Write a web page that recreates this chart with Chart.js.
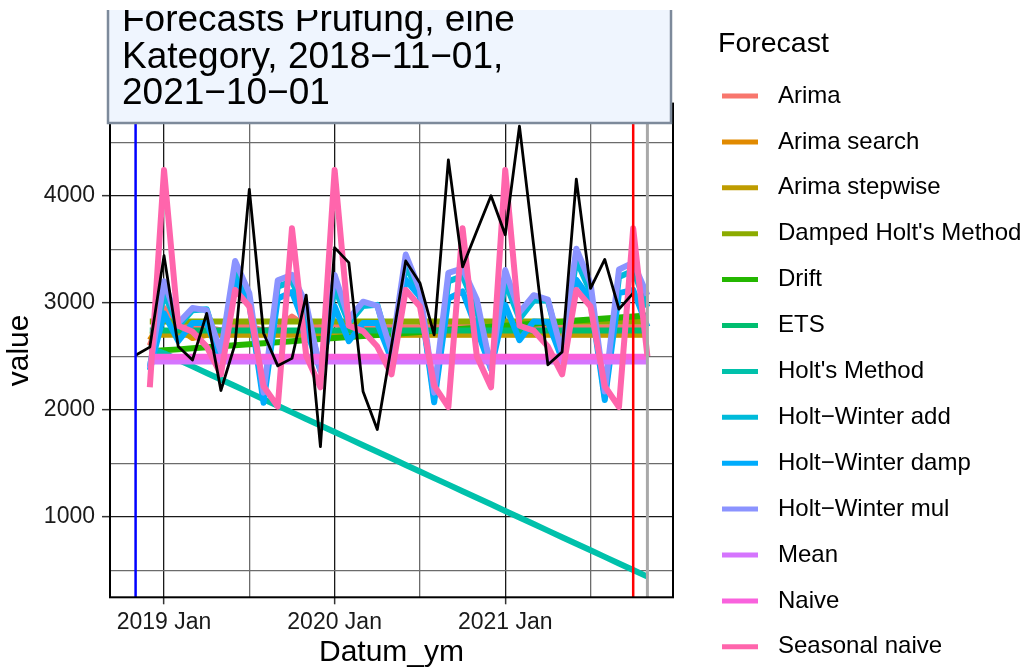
<!DOCTYPE html>
<html>
<head>
<meta charset="utf-8">
<script src="https://cdn.jsdelivr.net/npm/chart.js@4/dist/chart.umd.min.js"></script>
<style>
  html, body { margin: 0; padding: 0; background: #fff; }
</style>
</head>
<body>
<canvas id="fcChart" width="1023" height="671"></canvas>
<script>
// months on the x axis (2018-11 .. 2021-11)
const months = [
  '2018-11', '2018-12',
  '2019-01', '2019-02', '2019-03', '2019-04', '2019-05', '2019-06', '2019-07', '2019-08', '2019-09', '2019-10', '2019-11', '2019-12',
  '2020-01', '2020-02', '2020-03', '2020-04', '2020-05', '2020-06', '2020-07', '2020-08', '2020-09', '2020-10', '2020-11', '2020-12',
  '2021-01', '2021-02', '2021-03', '2021-04', '2021-05', '2021-06', '2021-07', '2021-08', '2021-09', '2021-10', '2021-11'
];
const actualMonths = months.slice(0, 36);
const forecastMonths = months.slice(1);

// observed values (black line)
const actual = [2510, 2585, 3440, 2590, 2465, 2900, 2180, 2615, 4060, 2715, 2410, 2480,
  3070, 1655, 3515, 3375, 2170, 1815, 2600, 3390, 3185, 2700, 4335, 3335,
  3670, 4000, 3635, 4650, 3535, 2420, 2540, 4155, 3135, 3405, 2940, 3090];

// forecasts, one array per method
const arima = [2600, 2950, 2800, 2760, 2770, 2740, 2790, 2780, 2740, 2760, 2870, 2780,
  2770, 2800, 2770, 2770, 2770, 2770, 2770, 2770, 2770, 2770, 2800, 2770,
  2770, 2770, 2770, 2770, 2770, 2770, 2770, 2770, 2770, 2770, 2770, 2770];
const arimaSearch = [2650, 2850, 2760, 2670, 2700, 2705, 2705, 2705, 2705, 2705, 2705, 2705,
  2705, 2705, 2705, 2705, 2705, 2705, 2705, 2705, 2705, 2705, 2705, 2705,
  2705, 2705, 2705, 2705, 2705, 2705, 2705, 2705, 2705, 2705, 2705, 2705];
const arimaStepwise = [2700, 2700, 2700, 2700, 2700, 2700, 2700, 2700, 2700, 2700, 2700, 2700,
  2700, 2700, 2700, 2700, 2700, 2700, 2700, 2700, 2700, 2700, 2700, 2700,
  2700, 2700, 2700, 2700, 2700, 2700, 2700, 2700, 2700, 2700, 2700, 2700];
const dampedHolt = [2825, 2825, 2825, 2825, 2825, 2825, 2825, 2825, 2825, 2825, 2825, 2825,
  2825, 2825, 2825, 2825, 2825, 2825, 2825, 2825, 2825, 2825, 2825, 2825,
  2825, 2825, 2825, 2825, 2825, 2825, 2825, 2825, 2825, 2825, 2825, 2825];
const drift = [2545, 2555, 2564, 2574, 2583, 2593, 2603, 2612, 2622, 2631, 2641, 2651,
  2660, 2670, 2679, 2689, 2699, 2708, 2718, 2727, 2737, 2747, 2756, 2766,
  2775, 2785, 2795, 2804, 2814, 2823, 2833, 2843, 2852, 2862, 2871, 2881];
const ets = [2740, 2740, 2740, 2740, 2740, 2740, 2740, 2740, 2740, 2740, 2740, 2740,
  2740, 2740, 2740, 2740, 2740, 2740, 2740, 2740, 2740, 2740, 2740, 2740,
  2740, 2740, 2740, 2740, 2740, 2740, 2740, 2740, 2740, 2740, 2740, 2740];
const holt = [2575, 2528, 2467, 2405, 2344, 2282, 2221, 2160, 2098, 2037, 1975, 1914,
  1853, 1791, 1730, 1668, 1607, 1546, 1484, 1423, 1361, 1300, 1239, 1177,
  1116, 1054, 993, 932, 870, 809, 747, 686, 625, 563, 502, 440];
const hwAdd = [2400, 3090, 2780, 2930, 2940, 2500, 3300, 3040, 2110, 3150, 3200, 2900,
  2390, 3140, 2810, 2970, 2980, 2500, 3350, 3070, 2110, 3200, 3250, 2930,
  2400, 3190, 2850, 3020, 3020, 2500, 3400, 3100, 2120, 3240, 3300, 2960];
const hwDamp = [2370, 2900, 2640, 2810, 2810, 2470, 3210, 2990, 2065, 3040, 3100, 2750,
  2370, 2965, 2640, 2810, 2810, 2470, 3215, 3055, 2070, 3040, 3105, 2750,
  2380, 2980, 2650, 2825, 2820, 2470, 3215, 3030, 2090, 3090, 3120, 2775];
const hwMul = [2390, 3200, 2810, 2950, 2930, 2540, 3390, 3090, 2160, 3210, 3260, 2990,
  2360, 3260, 2850, 3010, 2970, 2540, 3450, 3120, 2160, 3280, 3320, 3030,
  2380, 3305, 2910, 3070, 3030, 2530, 3505, 3180, 2170, 3310, 3375, 3070];
const meanFc = [2450, 2450, 2450, 2450, 2450, 2450, 2450, 2450, 2450, 2450, 2450, 2450,
  2450, 2450, 2450, 2450, 2450, 2450, 2450, 2450, 2450, 2450, 2450, 2450,
  2450, 2450, 2450, 2450, 2450, 2450, 2450, 2450, 2450, 2450, 2450, 2450];
const naive = [2495, 2495, 2495, 2495, 2495, 2495, 2495, 2495, 2495, 2495, 2495, 2495,
  2495, 2495, 2495, 2495, 2495, 2495, 2495, 2495, 2495, 2495, 2495, 2495,
  2495, 2495, 2495, 2495, 2495, 2495, 2495, 2495, 2495, 2495, 2495, 2495];
const seasonalNaive = [2210, 4240, 2785, 2730, 2590, 2330, 3120, 2965, 2220, 2030, 3695, 2505,
  2210, 4240, 2785, 2735, 2590, 2330, 3120, 2965, 2225, 2025, 3695, 2500,
  2210, 4240, 2785, 2740, 2590, 2330, 3120, 2965, 2220, 2025, 3695, 2500];

const forecastNames = ['Arima', 'Arima search', 'Arima stepwise', "Damped Holt's Method", 'Drift', 'ETS',
  "Holt's Method", 'Holt\u2212Winter add', 'Holt\u2212Winter damp', 'Holt\u2212Winter mul', 'Mean', 'Naive', 'Seasonal naive'];
const forecastValues = [arima, arimaSearch, arimaStepwise, dampedHolt, drift, ets,
  holt, hwAdd, hwDamp, hwMul, meanFc, naive, seasonalNaive];
const forecastColors = ['#F8766D', '#E18A00', '#BE9C00', '#8CAB00', '#24B700', '#00BE70',
  '#00C1AB', '#00BBDA', '#00ACFC', '#8B93FF', '#D575FE', '#F962DD', '#FF65AC'];

// vertical markers
const vlineMonths = ['2018-11', '2021-10', '2021-11'];
const vlineColors = ['#0000FF', '#FF0000', '#A9A9A9'];

// ticks
const xMajorMonths = ['2019-01', '2020-01', '2021-01'];
const xTickLabels = ['2019 Jan', '2020 Jan', '2021 Jan'];
const xMinorMonths = ['2019-07', '2020-07', '2021-07'];
const yMajorTicks = [1000, 2000, 3000, 4000];
const yMinorTicks = [500, 1500, 2500, 3500, 4500];

const titleLines = ['Forecasts Prufung, eine', 'Kategory, 2018\u221211\u221201,', '2021\u221210\u221201'];
const FONT = "'Liberation Sans', Arial, Helvetica, sans-serif";

// months since 2018-11
function monthIndex(s) {
  const [y, m] = s.split('-').map(Number);
  return (y - 2018) * 12 + (m - 11);
}

const datasets = [{
  label: 'actual',
  data: actualMonths.map((m, i) => ({ x: monthIndex(m), y: actual[i] })),
  borderColor: '#000000',
  borderWidth: 2.8,
  order: 0
}];
forecastNames.forEach((name, i) => {
  datasets.push({
    label: name,
    data: forecastMonths.map((m, j) => ({ x: monthIndex(m), y: forecastValues[i][j] })),
    borderColor: forecastColors[i],
    borderWidth: 6,
    order: forecastNames.length - i
  });
});

const overlay = {
  id: 'overlay',
  afterDatasetsDraw(chart) {
    const { ctx, chartArea: a, scales: { x } } = chart;
    ctx.save();
    vlineMonths.forEach((m, i) => {
      const px = x.getPixelForValue(monthIndex(m));
      ctx.strokeStyle = vlineColors[i];
      ctx.lineWidth = i === 2 ? 3 : 2.5;
      ctx.beginPath();
      ctx.moveTo(px, a.top);
      ctx.lineTo(px, a.bottom);
      ctx.stroke();
    });
    ctx.strokeStyle = '#000';
    ctx.lineWidth = 2;
    ctx.strokeRect(a.left, a.top, a.right - a.left, a.bottom - a.top);
    ctx.restore();
  },
  afterDraw(chart) {
    const ctx = chart.ctx;
    // title box (cut off at the top)
    ctx.save();
    ctx.beginPath();
    ctx.rect(0, 10, chart.width, chart.height);
    ctx.clip();
    ctx.fillStyle = '#EFF5FE';
    ctx.fillRect(108, -30, 563, 153);
    ctx.strokeStyle = '#7D8A9B';
    ctx.lineWidth = 2.5;
    ctx.strokeRect(108, -30, 563, 153);
    ctx.fillStyle = '#000';
    ctx.font = '37px ' + FONT;
    ctx.textBaseline = 'alphabetic';
    titleLines.forEach((t, i) => ctx.fillText(t, 122, 31 + i * 36.5));
    ctx.restore();

    // legend
    ctx.save();
    ctx.fillStyle = '#000';
    ctx.textBaseline = 'middle';
    ctx.font = '28.5px ' + FONT;
    ctx.fillText('Forecast', 718, 44);
    ctx.font = '24px ' + FONT;
    forecastNames.forEach((name, i) => {
      const y = 96 + i * 45.9;
      ctx.strokeStyle = forecastColors[i];
      ctx.lineWidth = 5;
      ctx.beginPath();
      ctx.moveTo(722, y);
      ctx.lineTo(758, y);
      ctx.stroke();
      ctx.fillText(name, 778, y);
    });
    ctx.restore();
  }
};

new Chart(document.getElementById('fcChart'), {
  type: 'line',
  data: { datasets },
  options: {
    responsive: false,
    animation: false,
    devicePixelRatio: 1,
    layout: { padding: { top: 103.6, right: 350, left: 0, bottom: 0 } },
    elements: {
      point: { radius: 0, hoverRadius: 0 },
      line: { tension: 0, borderJoinStyle: 'round', borderCapStyle: 'butt', fill: false }
    },
    plugins: { legend: { display: false }, title: { display: false }, tooltip: { enabled: false } },
    scales: {
      x: {
        type: 'linear',
        min: -1.8,
        max: 37.8,
        afterFit(scale) { scale.height = 671 - 597.3; },
        afterBuildTicks(scale) {
          scale.ticks = xMajorMonths.concat(xMinorMonths).map(monthIndex).sort((a, b) => a - b).map(v => ({ value: v }));
        },
        ticks: {
          autoSkip: false,
          maxRotation: 0,
          padding: 5,
          color: '#1a1a1a',
          font: { family: FONT, size: 23 },
          callback(value) {
            const k = xMajorMonths.map(monthIndex).indexOf(value);
            return k >= 0 ? xTickLabels[k] : '';
          }
        },
        grid: {
          color: c => xMajorMonths.map(monthIndex).includes(c.tick.value) ? '#1a1a1a' : '#6b6b6b',
          lineWidth: 1.3,
          tickLength: 7,
          tickWidth: 1.5,
          tickColor: c => xMajorMonths.map(monthIndex).includes(c.tick.value) ? '#333' : 'rgba(0,0,0,0)'
        },
        border: { display: false },
        title: {
          display: true,
          text: 'Datum_ym',
          color: '#000',
          font: { family: FONT, size: 30 },
          padding: { top: 0, bottom: 0 }
        }
      },
      y: {
        type: 'linear',
        min: 247,
        max: 4861,
        afterFit(scale) { scale.width = 110; },
        afterBuildTicks(scale) {
          scale.ticks = yMinorTicks.concat(yMajorTicks).sort((a, b) => a - b).map(v => ({ value: v }));
        },
        ticks: {
          autoSkip: false,
          padding: 7,
          color: '#1a1a1a',
          font: { family: FONT, size: 23 },
          callback(value) { return yMajorTicks.includes(value) ? String(value) : ''; }
        },
        grid: {
          color: c => yMajorTicks.includes(c.tick.value) ? '#1a1a1a' : '#6b6b6b',
          lineWidth: 1.3,
          tickLength: 8,
          tickWidth: 1.5,
          tickColor: c => yMajorTicks.includes(c.tick.value) ? '#333' : 'rgba(0,0,0,0)'
        },
        border: { display: false },
        title: {
          display: true,
          text: 'value',
          color: '#000',
          font: { family: FONT, size: 30 },
          padding: { top: 2, bottom: 0 }
        }
      }
    }
  },
  plugins: [overlay]
});
</script>
</body>
</html>
